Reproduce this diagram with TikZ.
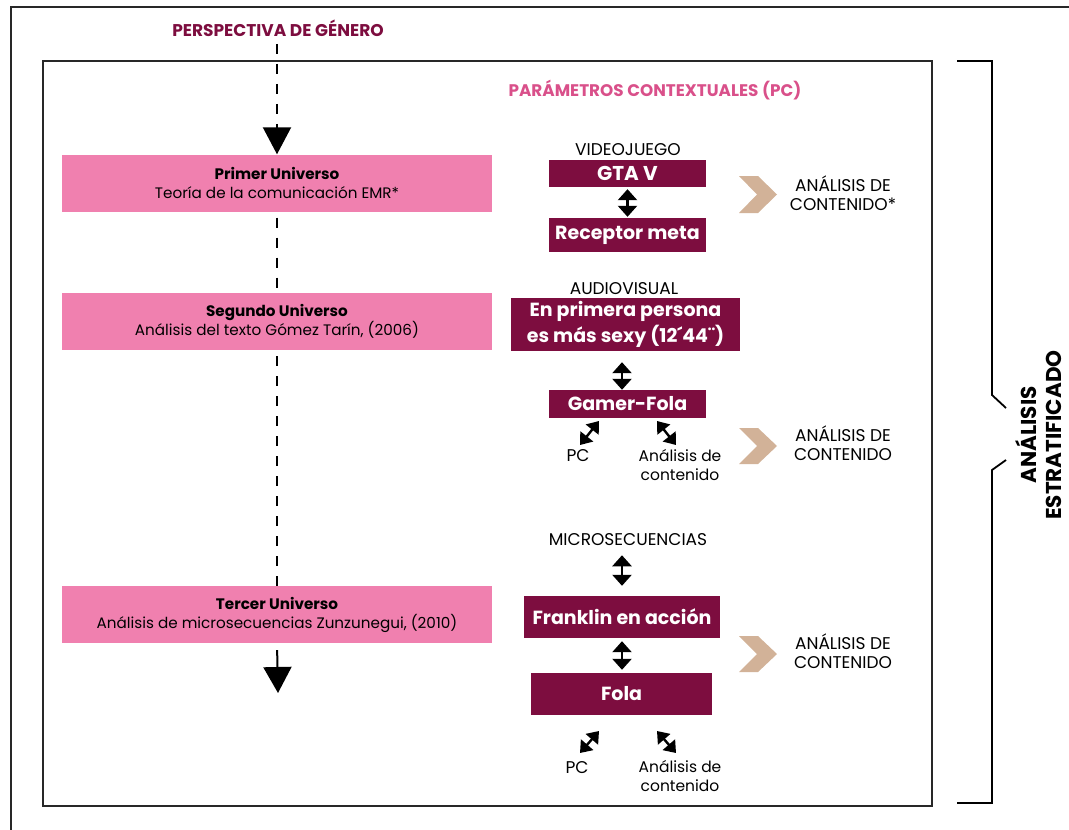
\documentclass[tikz,border=0pt]{standalone}
\usepackage{fontspec}
\setmainfont{Poppins}
\usetikzlibrary{arrows.meta}
\definecolor{maroon}{RGB}{125,13,63}
\definecolor{pinkc}{RGB}{240,128,175}
\definecolor{pinktxt}{RGB}{217,80,138}
\definecolor{tanc}{RGB}{210,178,152}
\definecolor{framec}{RGB}{40,40,40}
\tikzset{
  pinkbox/.style={fill=pinkc, minimum width=430pt, minimum height=57pt, align=center, inner sep=0pt, font=\fontsize{15.2}{19}\selectfont},
  darkbox/.style={fill=maroon, text=white, inner sep=0pt, align=center, font=\bfseries\fontsize{19}{22}\selectfont},
  lbl/.style={align=center, inner sep=1pt, font=\fontsize{17}{19}\selectfont},
  sml/.style={align=center, inner sep=1pt, font=\fontsize{15.5}{19}\selectfont},
  dbl/.style={line width=2.4pt, {Triangle[width=19pt,length=11pt]}-{Triangle[width=19pt,length=11pt]}},
  dbls/.style={line width=2.4pt, {Triangle[width=16pt,length=11pt]}-{Triangle[width=16pt,length=11pt]}},
  dashpat/.style={line width=2pt, dash pattern=on 10pt off 10pt},
  chev/.style={fill=tanc, draw=none},
  framel/.style={draw=framec, line width=1.4pt},
}
\begin{document}
\begin{tikzpicture}[x=1pt,y=-1pt]
\useasboundingbox (0,0) rectangle (1069,830);
% frames
\draw[framel] (11,830) -- (11,7) -- (1069,7);
\draw[framel] (43,61) rectangle (932,806);
% bracket
\draw[line width=1.8pt, line join=miter] (957,61) -- (992,61) -- (992,395) -- (1006,408);
\draw[line width=1.8pt, line join=miter] (1006,460) -- (992,470) -- (992,803) -- (957,803);
\node[rotate=90, align=center, inner sep=0pt, font=\bfseries\fontsize{21.5}{25}\selectfont] (estr) at (1038.5,435) {ANÁLISIS\\ESTRATIFICADO};

% titles
\node[text=maroon, font=\bfseries\fontsize{17}{20}\selectfont] (pers) at (278,28) {PERSPECTIVA DE GÉNERO};
\node[text=pinktxt, font=\bfseries\fontsize{16.8}{20}\selectfont] (param) at (655,90) {PARÁMETROS CONTEXTUALES (PC)};

% left column
\node[pinkbox] (u1) at (277,183) {\textbf{Primer Universo}\\Teoría de la comunicación EMR*};
\node[pinkbox] (u2) at (277,321.5) {\textbf{Segundo Universo}\\Análisis del texto Gómez Tarín, (2006)};
\node[pinkbox] (u3) at (277,614.5) {\textbf{Tercer Universo}\\Análisis de microsecuencias Zunzunegui, (2010)};
\coordinate (endarr) at (278,693);

\draw[dashpat, -{Triangle[width=28pt,length=27pt]}] ([yshift=-4pt]pers.south -| u1.north) -- (u1.north);
\draw[dashpat] ([yshift=-6pt]u1.south) -- (u2.north);
\draw[dashpat] ([yshift=-6pt]u2.south) -- (u3.north);
\draw[line width=2pt, -{Triangle[width=28pt,length=26pt]}, shorten <=7pt] (u3.south) -- (endarr);

% right column: videojuego
\node[lbl] (vid) at (628,150) {VIDEOJUEGO};
\node[darkbox, minimum width=157pt, minimum height=27pt, font=\bfseries\fontsize{20}{22}\selectfont] (gta) at (627.5,173.5) {GTA V};
\node[darkbox, minimum width=157pt, minimum height=34pt] (rec) at (627.5,235) {Receptor meta};
\draw[dbl, shorten <=2pt, shorten >=1pt] (gta.south) -- (rec.north);
\filldraw[chev] (739,176) -- (758,176) -- (777,194.5) -- (758,213) -- (739,213) -- (757,194.5) -- cycle;
\node[lbl] (ac1) at (843,193.5) {ANÁLISIS DE\\CONTENIDO*};

% audiovisual
\node[lbl] (aud) at (624,289) {AUDIOVISUAL};
\node[darkbox, minimum width=229pt, minimum height=53pt, font=\bfseries\fontsize{19}{26}\selectfont] (enp) at (625.5,324.5) {En primera persona\\es más sexy (12´44¨)};
\node[darkbox, minimum width=157pt, minimum height=28pt] (gamer) at (627.5,404) {Gamer-Fola};
\draw[dbl, shorten <=11pt] (enp.south -| 622,0) -- (gamer.north -| 622,0);
\node[lbl] (pc1) at (578,456) {PC};
\node[sml] (an1) at (680,465) {Análisis de\\contenido};
\coordinate (d1a) at (580,445); \coordinate (d1b) at (599,421);
\coordinate (d2a) at (676,445); \coordinate (d2b) at (657,421);
\draw[dbls] (d1a) -- (d1b);
\draw[dbls] (d2a) -- (d2b);
\filldraw[chev] (739,428) -- (758,428) -- (777,446) -- (758,464) -- (739,464) -- (757,446) -- cycle;
\node[lbl] (ac2) at (843,443.5) {ANÁLISIS DE\\CONTENIDO};

% microsecuencias
\node[lbl] (mic) at (628,540) {MICROSECUENCIAS};
\node[darkbox, minimum width=196pt, minimum height=42pt] (frank) at (622,617) {Franklin en acción};
\node[darkbox, minimum width=181pt, minimum height=42pt] (fola) at (621.5,694) {Fola};
\draw[dbl, shorten <=8pt, shorten >=10pt] (mic.south -| 622,0) -- (frank.north -| 622,0);
\draw[dbl, shorten <=3pt, shorten >=3pt] (frank.south -| 622,0) -- (fola.north -| 622,0);
\filldraw[chev] (739,636) -- (758,636) -- (777,654) -- (758,672) -- (739,672) -- (757,654) -- cycle;
\node[lbl] (ac3) at (843,651.5) {ANÁLISIS DE\\CONTENIDO};
\node[lbl] (pc2) at (577,768) {PC};
\node[sml] (an2) at (680,776) {Análisis de\\contenido};
\coordinate (e1a) at (580,753); \coordinate (e1b) at (599,731);
\coordinate (e2a) at (676,753); \coordinate (e2b) at (657,731);
\draw[dbls] (e1a) -- (e1b);
\draw[dbls] (e2a) -- (e2b);
\end{tikzpicture}
\end{document}
